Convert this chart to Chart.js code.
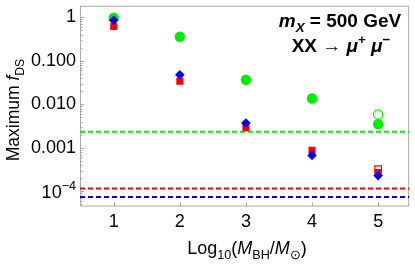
<!DOCTYPE html>
<html>
<head>
<meta charset="utf-8">
<script src="https://cdn.jsdelivr.net/npm/chart.js@4"></script>
<style>
  html, body { margin: 0; padding: 0; background: #fff; }
  #wrap { width: 415px; height: 265px; }
</style>
</head>
<body>
<div id="wrap"><canvas id="chart" width="415" height="265"></canvas></div>
<script>
// values (x = log10 of BH mass)
const bhLog      = [1, 2, 3, 4, 5];
const greenVals  = [0.97, 0.356, 0.0367, 0.0136, 0.0035];
const redVals    = [0.61, 0.0338, 0.00288, 0.00088, 0.00027];
const blueVals   = [0.857, 0.0475, 0.00373, 0.00067, 0.00023];
const greenOpenX = [5];
const greenOpenY = [0.00585];
const redOpenX   = [5];
const redOpenY   = [0.000324];
const limitVals  = [0.00234, 0.000117, 0.0000738];   // green, red, blue dashed lines
const xTickVals  = [1, 2, 3, 4, 5];
const yMajor     = [1, 0.1, 0.01, 0.001, 0.0001];
const yMajorText = ['1', '0.100', '0.010', '0.001', null];

const X_MIN = 0.49, X_MAX = 5.47;
const Y_MIN = 4.49e-5, Y_MAX = 1.83;

const GREEN = '#00ee00';
const RED   = '#ff0000';
const BLUE  = '#0000ff';
const FRAME = '#a8a8a8';
const FONT  = "'Liberation Sans', Arial, sans-serif";
const TICK_PX = 18;

const pts = (xs, ys) => xs.map((x, i) => ({ x, y: ys[i] }));
const hline = v => [{ x: X_MIN, y: v }, { x: X_MAX, y: v }];

// draws a row of text pieces, with italics and sub/superscripts
function richText(ctx, parts, x, y, size, align) {
    const fontFor = p => {
        const s = p.sub || p.sup ? size * 0.7 : size;
        return `${p.it ? 'italic ' : ''}${p.b ? 'bold ' : ''}${s}px ${FONT}`;
    };
    let total = 0;
    for (const p of parts) { ctx.font = fontFor(p); total += ctx.measureText(p.t).width; }
    let cx = align === 'right' ? x - total : align === 'center' ? x - total / 2 : x;
    ctx.textAlign = 'left';
    ctx.textBaseline = 'alphabetic';
    for (const p of parts) {
        ctx.font = fontFor(p);
        const dy = p.sub ? size * 0.28 : p.sup ? -size * 0.42 : 0;
        ctx.fillText(p.t, cx, y + dy);
        cx += ctx.measureText(p.t).width;
    }
}

const framePlugin = {
    id: 'frame',
    beforeDatasetsDraw(chart) {
        const { ctx, chartArea: a, scales: { x, y } } = chart;
        ctx.save();
        ctx.strokeStyle = FRAME;
        ctx.lineWidth = 1;
        ctx.strokeRect(a.left + 0.5, a.top + 0.5, a.right - a.left - 1, a.bottom - a.top - 1);
        ctx.beginPath();
        for (const t of y.ticks) {
            const py = Math.round(y.getPixelForValue(t.value)) + 0.5;
            const len = t.major ? 4 : 2.5;
            ctx.moveTo(a.left, py); ctx.lineTo(a.left + len, py);
        }
        for (const t of x.ticks) {
            const px = Math.round(x.getPixelForValue(t.value)) + 0.5;
            ctx.moveTo(px, a.bottom); ctx.lineTo(px, a.bottom - 4);
        }
        ctx.stroke();
        ctx.restore();
    },
    afterDraw(chart) {
        const { ctx, scales: { x, y } } = chart;
        ctx.save();
        ctx.fillStyle = '#000';
        yMajor.forEach((v, i) => {
            const py = y.getPixelForValue(v);
            if (yMajorText[i]) {
                ctx.font = `${TICK_PX}px ${FONT}`;
                ctx.textAlign = 'right';
                ctx.textBaseline = 'middle';
                ctx.fillText(yMajorText[i], 76, py);
            } else {
                richText(ctx, [{ t: '10' }, { t: '\u22124', sup: true }], 76, py + 6.5, TICK_PX, 'right');
            }
        });
        ctx.font = `${TICK_PX}px ${FONT}`;
        ctx.textAlign = 'center';
        ctx.textBaseline = 'middle';
        for (const v of xTickVals) ctx.fillText(String(v), x.getPixelForValue(v), 222);

        // axis titles
        richText(ctx, [
            { t: 'Log' }, { t: '10', sub: true }, { t: '(' },
            { t: 'M', it: true }, { t: 'BH', sub: true }, { t: '/' },
            { t: 'M', it: true }, { t: '\u2299', sub: true }, { t: ')' }
        ], 247, 254, 18, 'center');

        ctx.save();
        ctx.translate(19, 110);
        ctx.rotate(-Math.PI / 2);
        richText(ctx, [{ t: 'Maximum ' }, { t: 'f', it: true }, { t: 'DS', sub: true }], 0, 0, 17.5, 'center');
        ctx.restore();

        // annotation
        richText(ctx, [
            { t: 'm', it: true, b: true }, { t: 'X', it: true, b: true, sub: true },
            { t: ' = 500 GeV', b: true }
        ], 340, 27, 19, 'center');
        richText(ctx, [
            { t: 'XX \u2192 ', b: true }, { t: '\u03bc', it: true, b: true }, { t: '+', b: true, sup: true },
            { t: ' ' , b: true }, { t: '\u03bc', it: true, b: true }, { t: '\u2212', b: true, sup: true }
        ], 341, 52, 19, 'center');
        ctx.restore();
    }
};

const ctx = document.getElementById('chart').getContext('2d');
new Chart(ctx, {
    type: 'scatter',
    data: {
        datasets: [
            { data: pts(bhLog, blueVals), pointStyle: 'rectRot', pointRadius: 4.8, backgroundColor: BLUE, borderWidth: 0, order: 0 },
            { data: pts(bhLog, redVals), pointStyle: 'rect', pointRadius: 5, backgroundColor: RED, borderWidth: 0, order: 1 },
            { data: pts(redOpenX, redOpenY), pointStyle: 'rect', pointRadius: 4.6, backgroundColor: '#fff', borderColor: RED, borderWidth: 1.2, order: 1 },
            { data: pts(bhLog, greenVals), pointStyle: 'circle', pointRadius: 5.2, backgroundColor: GREEN, borderWidth: 0, order: 2 },
            { data: pts(greenOpenX, greenOpenY), pointStyle: 'circle', pointRadius: 4.6, backgroundColor: '#fff', borderColor: GREEN, borderWidth: 1.2, order: 2 },
            { type: 'line', data: hline(limitVals[0]), borderColor: GREEN, borderWidth: 2, borderDash: [5, 3], pointRadius: 0, order: 3 },
            { type: 'line', data: hline(limitVals[1]), borderColor: RED, borderWidth: 2, borderDash: [5, 3], pointRadius: 0, order: 3 },
            { type: 'line', data: hline(limitVals[2]), borderColor: BLUE, borderWidth: 2, borderDash: [5, 3], pointRadius: 0, order: 3 }
        ]
    },
    options: {
        responsive: false,
        animation: false,
        layout: { padding: { top: 1, right: 2.5, left: 0, bottom: 0 } },
        plugins: { legend: { display: false }, tooltip: { enabled: false } },
        scales: {
            x: {
                type: 'linear', min: X_MIN, max: X_MAX,
                grid: { display: false }, border: { display: false },
                ticks: { display: false },
                afterBuildTicks: s => { s.ticks = xTickVals.map(v => ({ value: v, major: true })); },
                afterFit: s => { s.height = 58.5; }
            },
            y: {
                type: 'logarithmic', min: Y_MIN, max: Y_MAX,
                grid: { display: false }, border: { display: false },
                ticks: { display: false },
                afterBuildTicks: s => {
                    const t = [];
                    for (let e = -5; e <= 0; e++) {
                        for (let m = 1; m <= 9; m++) {
                            const v = m * Math.pow(10, e);
                            if (v >= Y_MIN && v <= Y_MAX) t.push({ value: v, major: m === 1 });
                        }
                    }
                    s.ticks = t;
                },
                afterFit: s => { s.width = 80; }
            }
        }
    },
    plugins: [framePlugin]
});
</script>
</body>
</html>
